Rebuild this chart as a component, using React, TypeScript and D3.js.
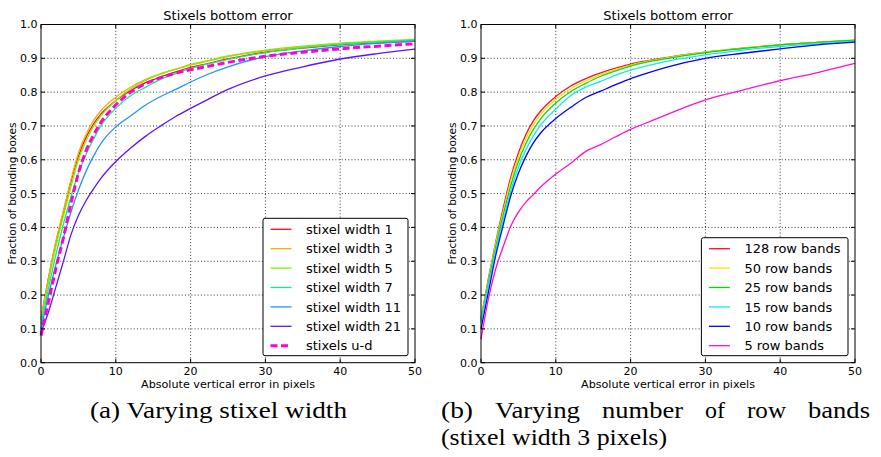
import React from 'react';
import * as d3 from 'd3';

// absolute vertical error (pixels) at which the curves were sampled
const errPx = [0, 1, 2, 3, 4, 5, 6, 7, 8, 10, 12, 14, 16, 18, 20, 22, 25, 30, 35, 40, 45, 50];

// (a) varying stixel width
const sw1 = [0.13, 0.25, 0.355, 0.445, 0.535, 0.61, 0.665, 0.705, 0.735, 0.775, 0.805, 0.828, 0.845, 0.86, 0.873, 0.883, 0.898, 0.918, 0.93, 0.94, 0.946, 0.951];
const sw3 = [0.13, 0.25, 0.36, 0.45, 0.54, 0.62, 0.675, 0.715, 0.745, 0.785, 0.815, 0.838, 0.855, 0.868, 0.88, 0.89, 0.905, 0.922, 0.934, 0.943, 0.949, 0.954];
const sw5 = [0.125, 0.24, 0.345, 0.435, 0.52, 0.6, 0.655, 0.698, 0.73, 0.775, 0.81, 0.835, 0.853, 0.868, 0.882, 0.892, 0.907, 0.924, 0.936, 0.945, 0.951, 0.956];
const sw7 = [0.115, 0.22, 0.32, 0.41, 0.49, 0.56, 0.615, 0.66, 0.7, 0.752, 0.79, 0.815, 0.838, 0.855, 0.87, 0.882, 0.897, 0.917, 0.931, 0.941, 0.948, 0.954];
const sw11 = [0.1, 0.2, 0.29, 0.37, 0.445, 0.51, 0.565, 0.61, 0.648, 0.697, 0.73, 0.762, 0.787, 0.808, 0.83, 0.85, 0.875, 0.905, 0.922, 0.935, 0.944, 0.951];
const sw21 = [0.09, 0.15, 0.225, 0.3, 0.378, 0.435, 0.478, 0.513, 0.545, 0.595, 0.635, 0.67, 0.7, 0.728, 0.752, 0.775, 0.808, 0.848, 0.875, 0.898, 0.914, 0.927];
const swUD = [0.08, 0.18, 0.28, 0.37, 0.47, 0.56, 0.625, 0.672, 0.71, 0.762, 0.8, 0.825, 0.843, 0.856, 0.866, 0.875, 0.888, 0.906, 0.918, 0.928, 0.936, 0.943];

// (b) varying number of row bands
const rb128 = [0.13, 0.25, 0.36, 0.46, 0.55, 0.62, 0.675, 0.715, 0.745, 0.787, 0.818, 0.84, 0.857, 0.871, 0.883, 0.892, 0.903, 0.918, 0.93, 0.94, 0.947, 0.953];
const rb50 = [0.13, 0.245, 0.355, 0.45, 0.54, 0.608, 0.662, 0.703, 0.735, 0.778, 0.81, 0.833, 0.852, 0.867, 0.88, 0.89, 0.902, 0.918, 0.93, 0.94, 0.947, 0.954];
const rb25 = [0.125, 0.24, 0.345, 0.44, 0.525, 0.595, 0.648, 0.69, 0.722, 0.768, 0.802, 0.826, 0.847, 0.863, 0.877, 0.888, 0.9, 0.917, 0.929, 0.94, 0.947, 0.954];
const rb15 = [0.12, 0.23, 0.335, 0.425, 0.51, 0.578, 0.63, 0.67, 0.703, 0.75, 0.79, 0.815, 0.832, 0.85, 0.865, 0.877, 0.892, 0.91, 0.924, 0.935, 0.943, 0.951];
const rb10 = [0.1, 0.21, 0.32, 0.41, 0.495, 0.56, 0.61, 0.65, 0.68, 0.722, 0.755, 0.784, 0.803, 0.822, 0.84, 0.855, 0.875, 0.9, 0.915, 0.928, 0.94, 0.948];
const rb5 = [0.07, 0.19, 0.28, 0.345, 0.405, 0.445, 0.475, 0.497, 0.52, 0.558, 0.59, 0.625, 0.645, 0.668, 0.69, 0.708, 0.735, 0.777, 0.806, 0.834, 0.858, 0.885];

const widthNames = ['stixel width 1', 'stixel width 3', 'stixel width 5', 'stixel width 7', 'stixel width 11', 'stixel width 21', 'stixels u-d'];
const bandNames = ['128 row bands', '50 row bands', '25 row bands', '15 row bands', '10 row bands', '5 row bands'];

const xTicks = [0, 10, 20, 30, 40, 50];
const yTicks = [0, 0.1, 0.2, 0.3, 0.4, 0.5, 0.6, 0.7, 0.8, 0.9, 1.0];

const widthSeries = [
  { name: widthNames[0], values: sw1, color: '#ff0a14' },
  { name: widthNames[1], values: sw3, color: '#ffaa00' },
  { name: widthNames[2], values: sw5, color: '#7cf000' },
  { name: widthNames[3], values: sw7, color: '#10ee80' },
  { name: widthNames[4], values: sw11, color: '#1e96ff' },
  { name: widthNames[5], values: sw21, color: '#5a14ff' },
  { name: widthNames[6], values: swUD, color: '#ff00dd', dashed: true },
];
const bandSeries = [
  { name: bandNames[0], values: rb128, color: '#ff0a2a' },
  { name: bandNames[1], values: rb50, color: '#ffdd00' },
  { name: bandNames[2], values: rb25, color: '#00e000' },
  { name: bandNames[3], values: rb15, color: '#10e8f8' },
  { name: bandNames[4], values: rb10, color: '#0000ff' },
  { name: bandNames[5], values: rb5, color: '#ff10cc' },
];

const FONT = 'DejaVu Sans, sans-serif';
const SERIF = "'Liberation Serif', 'Times New Roman', serif";

// caption words: [text, left x, width]
const captionA = [['(a) Varying stixel width', 90, 257]];
const captionB1 = [['(b)', 441, 32], ['Varying', 495, 85], ['number', 602, 81], ['of', 705, 20], ['row', 747, 39], ['bands', 808, 62]];
const captionB2 = [['(stixel width 3 pixels)', 441, 226]];

function Panel({ left, series, legendWidth }) {
  const plotW = 374;
  const top = 24.5, bottom = 362.7;
  const x = d3.scaleLinear().domain([0, 50]).range([left, left + plotW]);
  const y = d3.scaleLinear().domain([0, 1]).range([bottom, top]);
  const line = d3.line()
    .x((d, i) => x(errPx[i]))
    .y(d => y(d))
    .curve(d3.curveMonotoneX);

  const rowH = 19.4;
  const lh = series.length * rowH + 1.6;
  const lx = x(50) - 7 - legendWidth;
  const ly = bottom - 7 - lh;
  const cx = (x(0) + x(50)) / 2;

  return (
    <g>
      {/* grid */}
      {xTicks.slice(1, -1).map(t => (
        <line key={'gx' + t} x1={x(t)} x2={x(t)} y1={top} y2={bottom}
          stroke="#000" strokeWidth={0.8} strokeDasharray="1,2.2" />
      ))}
      {yTicks.slice(1, -1).map(t => (
        <line key={'gy' + t} x1={x(0)} x2={x(50)} y1={y(t)} y2={y(t)}
          stroke="#000" strokeWidth={0.8} strokeDasharray="1,2.2" />
      ))}

      {/* curves */}
      {series.map(s => (
        <path key={s.name} d={line(s.values)} fill="none" stroke={s.color}
          strokeWidth={s.dashed ? 3 : 1.3}
          strokeDasharray={s.dashed ? '7,3.5' : undefined} />
      ))}

      {/* frame and ticks */}
      <rect x={x(0)} y={top} width={plotW} height={bottom - top} fill="none" stroke="#000" strokeWidth={1} />
      {xTicks.map(t => (
        <g key={'tx' + t}>
          <line x1={x(t)} x2={x(t)} y1={bottom} y2={bottom - 4} stroke="#000" />
          <line x1={x(t)} x2={x(t)} y1={top} y2={top + 4} stroke="#000" />
          <text x={x(t)} y={375} textAnchor="middle" fontSize={11} fontFamily={FONT}>{t}</text>
        </g>
      ))}
      {yTicks.map(t => (
        <g key={'ty' + t}>
          <line x1={x(0)} x2={x(0) + 4} y1={y(t)} y2={y(t)} stroke="#000" />
          <line x1={x(50)} x2={x(50) - 4} y1={y(t)} y2={y(t)} stroke="#000" />
          <text x={x(0) - 3.5} y={y(t)} dy="0.36em" textAnchor="end" fontSize={11} fontFamily={FONT}>{t.toFixed(1)}</text>
        </g>
      ))}

      {/* labels */}
      <text x={cx} y={19.5} textAnchor="middle" fontSize={13} fontFamily={FONT}>Stixels bottom error</text>
      <text x={cx} y={388} textAnchor="middle" fontSize={10} fontFamily={FONT}
        textLength={174} lengthAdjust="spacingAndGlyphs">Absolute vertical error in pixels</text>
      <text transform={`translate(${left - 25},${(top + bottom) / 2}) rotate(-90)`} textAnchor="middle"
        fontSize={10.5} fontFamily={FONT}>Fraction of bounding boxes</text>

      {/* legend */}
      <rect x={lx} y={ly} width={legendWidth} height={lh} rx={2} fill="#fff" stroke="#000" strokeWidth={1} />
      {series.map((s, i) => {
        const ry = ly + 11 + i * rowH;
        return (
          <g key={'lg' + s.name}>
            <line x1={lx + 7.5} x2={lx + 28.5} y1={ry} y2={ry} stroke={s.color}
              strokeWidth={s.dashed ? 3 : 1.3} strokeDasharray={s.dashed ? '7,3.5' : undefined} />
            <text x={lx + 43} y={ry} dy="0.36em" fontSize={13} fontFamily={FONT}>{s.name}</text>
          </g>
        );
      })}
    </g>
  );
}

function Caption({ words, y }) {
  return (
    <g>
      {words.map(([w, wx, ww]) => (
        <text key={w + wx} x={wx} y={y} fontSize={23} fontFamily={SERIF}
          textLength={ww} lengthAdjust="spacingAndGlyphs">{w}</text>
      ))}
    </g>
  );
}

export default function App() {
  return (
    <svg width={881} height={457} style={{ position: 'absolute', left: 0, top: 0, background: '#fff' }}>
      <rect width={881} height={457} fill="#fff" />
      <Panel left={41} series={widthSeries} legendWidth={145} />
      <Panel left={481} series={bandSeries} legendWidth={146.6} />

      <Caption words={captionA} y={418} />
      <Caption words={captionB1} y={418} />
      <Caption words={captionB2} y={445} />
    </svg>
  );
}
